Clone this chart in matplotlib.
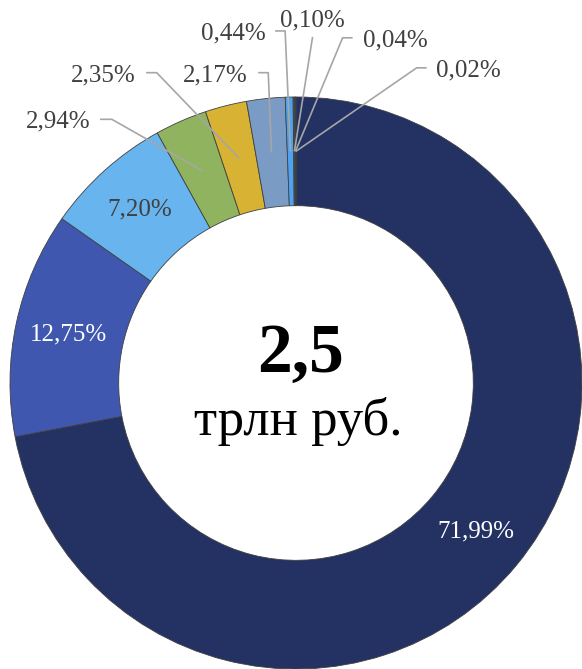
import matplotlib
matplotlib.use('Agg')
import matplotlib.pyplot as plt
import numpy as np

# shares, %
shares = [71.99, 12.75, 7.20, 2.94, 2.35, 2.17, 0.44, 0.10, 0.04, 0.02]
labels = ['71,99%', '12,75%', '7,20%', '2,94%', '2,35%', '2,17%',
          '0,44%', '0,10%', '0,04%', '0,02%']
colors = ['#233263', '#3f57ae', '#68b4ee', '#8fb35e', '#d7b233', '#7a9bc4',
          '#4da3f2', '#4d4d4d', '#5c4f2e', '#2e3a5e']
total_text = '2,5'
unit_text = 'трлн руб.'

# inside labels: index -> text colour
inside = {0: 'white', 1: 'white', 2: '#404040'}
# outside labels: index -> (text x, text y, line start x, elbow x, line y)
outside = {
    3: (-0.832, 0.913, -0.685, -0.644, 0.922),
    4: (-0.675, 1.077, -0.524, -0.487, 1.085),
    5: (-0.283, 1.077, -0.132, -0.097, 1.085),
    6: (-0.219, 1.223, -0.073, -0.038, 1.231),
    7: (0.056, 1.269, None, 0.058, 1.210),
    8: (0.346, 1.199, 0.198, 0.163, 1.207),
    9: (0.601, 1.094, 0.457, 0.422, 1.102),
}

plt.rcParams['font.family'] = ['Liberation Serif', 'DejaVu Serif']

fig = plt.figure(figsize=(5.82, 6.69), dpi=100)
ax = fig.add_axes([0, 0, 1, 1])

ring = 0.38
wedges, _ = ax.pie(shares, colors=colors, startangle=90, counterclock=False,
                   radius=1.0,
                   wedgeprops=dict(width=ring, edgecolor='#404040', linewidth=0.6))

mid_r = 1.0 - ring / 2
for i, w in enumerate(wedges):
    ang = np.deg2rad((w.theta1 + w.theta2) / 2)
    if i in inside:
        r = 0.815
        ax.text(r * np.cos(ang), r * np.sin(ang), labels[i], ha='center', va='center',
                fontsize=18, color=inside[i])
    else:
        tx, ty, sx, ex, ly = outside[i]
        ax.text(tx, ty, labels[i], ha='center', va='center', fontsize=18, color='#404040')
        px, py = mid_r * np.cos(ang), mid_r * np.sin(ang)
        if sx is None:
            xs, ys = [ex, px], [ly, py]
        else:
            xs, ys = [sx, ex, px], [ly, ly, py]
        ax.plot(xs, ys, color='#a6a6a6', linewidth=1.2, solid_capstyle='butt')

ax.text(0.014, 0.10, total_text, ha='center', va='center', fontsize=50,
        fontweight='bold', color='black')
ax.text(0.007, -0.135, unit_text, ha='center', va='center', fontsize=38, color='black')

ax.set_xlim(-296 / 286, 286 / 286)
ax.set_ylim(-1.0, 383 / 286)
ax.set_aspect('auto')
ax.axis('off')

plt.savefig('out.png', dpi=100)
